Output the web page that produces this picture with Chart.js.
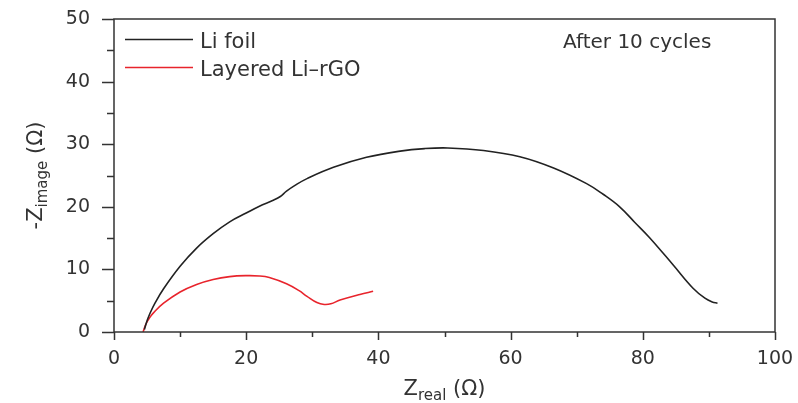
<!DOCTYPE html>
<html>
<head>
<meta charset="utf-8">
<script src="https://cdn.jsdelivr.net/npm/chart.js@4/dist/chart.umd.min.js"></script>
<style>
  html, body { margin: 0; padding: 0; background: #fff; }
  #wrap { width: 798px; height: 403px; }
</style>
</head>
<body>
<div id="wrap"><canvas id="nyquist"></canvas></div>
<script>
// DATA
const liFoilRe = [4.6, 5.0, 5.45, 6.2, 7.5, 10.0, 12.5, 15.0, 17.5, 20.0, 22.0, 24.0, 25.1, 26.1, 27.5, 29.2, 33.2, 38.2, 43.3, 47.0, 50.5, 55.9, 61.4, 66.5, 71.5, 74.0, 76.5, 78.8, 81.0, 84.6, 87.6, 89.4, 90.5, 91.3];
const liFoilIm = [0.4, 1.8, 3.0, 4.6, 6.9, 10.5, 13.4, 15.7, 17.6, 19.0, 20.1, 21.0, 21.6, 22.5, 23.5, 24.5, 26.3, 27.9, 28.9, 29.3, 29.4, 29.0, 28.0, 26.2, 23.7, 22.0, 20.0, 17.5, 15.1, 10.7, 7.0, 5.4, 4.8, 4.6];

const rgoRe = [4.4, 4.8, 5.4, 6.0, 7.5, 10.0, 12.5, 15.0, 17.5, 20.0, 22.0, 23.5, 26.1, 28.0, 29.2, 30.7, 31.8, 32.8, 34.2, 37.2, 39.2];
const rgoIm = [0.0, 1.2, 2.3, 3.1, 4.6, 6.4, 7.6, 8.4, 8.85, 9.0, 8.95, 8.7, 7.7, 6.6, 5.7, 4.7, 4.4, 4.5, 5.1, 6.0, 6.5];

const seriesNames = ['Li foil', 'Layered Li\u2013rGO'];
const seriesColors = ['#222222', '#e8242c'];
const note = 'After 10 cycles';

const xMajorLabels = [0, 20, 40, 60, 80, 100];
const yMajorLabels = [0, 10, 20, 30, 40, 50];

const toPoints = (xs, ys) => xs.map((x, i) => ({x: x, y: ys[i]}));

const FONT = '"DejaVu Sans", sans-serif';
const INK = '#333';

// keep tick labels from pushing the plot area around
const noPad = (s) => {
  s.paddingLeft = 0;
  s.paddingRight = 0;
  s.paddingTop = 0;
  s.paddingBottom = 0;
};

//FRAME, TICKS, LEGEND, TITLES
const decorPlugin = {
  id: 'decor',
  afterDraw(chart) {
    const ctx = chart.ctx;
    const a = chart.chartArea;
    const xs = chart.scales.x;
    const ys = chart.scales.y;
    ctx.save();

    // frame
    ctx.strokeStyle = '#333';
    ctx.lineWidth = 1.5;
    ctx.strokeRect(a.left, a.top, a.right - a.left, a.bottom - a.top);

    // y ticks (major 10, minor 5)
    ctx.beginPath();
    for (let v = 0; v <= 50; v += 5) {
      const p = Math.round(ys.getPixelForValue(v)) + 0.5;
      const len = v % 10 === 0 ? 12 : 7;
      ctx.moveTo(a.left - len, p);
      ctx.lineTo(a.left, p);
    }
    // x ticks (major 20, minor 10)
    for (let v = 0; v <= 100; v += 10) {
      const p = Math.round(xs.getPixelForValue(v)) + 0.5;
      const len = v % 20 === 0 ? 8 : 5;
      ctx.moveTo(p, a.bottom);
      ctx.lineTo(p, a.bottom + len);
    }
    ctx.stroke();

    // legend
    const legendY = [39.5, 67.5];
    seriesNames.forEach((name, i) => {
      ctx.strokeStyle = seriesColors[i];
      ctx.lineWidth = 1.5;
      ctx.beginPath();
      ctx.moveTo(125, legendY[i]);
      ctx.lineTo(193, legendY[i]);
      ctx.stroke();
      ctx.fillStyle = INK;
      ctx.font = '21px ' + FONT;
      ctx.textAlign = 'left';
      ctx.textBaseline = 'alphabetic';
      ctx.fillText(name, 200, legendY[i] + 8.5);
    });

    // note
    ctx.font = '20px ' + FONT;
    ctx.fillText(note, 563, 48);

    // axis titles with subscripts
    const drawSub = (main, sub, tail, cx, cy) => {
      ctx.textAlign = 'left';
      ctx.textBaseline = 'alphabetic';
      ctx.font = '21px ' + FONT;
      const w1 = ctx.measureText(main).width;
      const w3 = ctx.measureText(tail).width;
      ctx.font = '15px ' + FONT;
      const w2 = ctx.measureText(sub).width;
      let x = cx - (w1 + w2 + w3) / 2;
      ctx.font = '21px ' + FONT;
      ctx.fillText(main, x, cy);
      x += w1;
      ctx.font = '15px ' + FONT;
      ctx.fillText(sub, x, cy + 5);
      x += w2;
      ctx.font = '21px ' + FONT;
      ctx.fillText(tail, x, cy);
    };
    ctx.fillStyle = INK;
    drawSub('Z', 'real', ' (\u03a9)', (a.left + a.right) / 2, 395);

    ctx.translate(42, (a.top + a.bottom) / 2);
    ctx.rotate(-Math.PI / 2);
    drawSub('-Z', 'image', ' (\u03a9)', 0, 0);

    ctx.restore();
  }
};

const chart = new Chart(document.getElementById('nyquist'), {
  type: 'scatter',
  data: {
    datasets: [
      {
        label: seriesNames[0],
        data: toPoints(liFoilRe, liFoilIm),
        showLine: true,
        borderColor: seriesColors[0],
        borderWidth: 1.6,
        pointRadius: 0,
        tension: 0.4
      },
      {
        label: seriesNames[1],
        data: toPoints(rgoRe, rgoIm),
        showLine: true,
        borderColor: seriesColors[1],
        borderWidth: 1.6,
        pointRadius: 0,
        tension: 0.4
      }
    ]
  },
  options: {
    responsive: true,
    maintainAspectRatio: false,
    animation: false,
    layout: {
      padding: {left: 0, top: 19, right: 23, bottom: 0}
    },
    plugins: {
      legend: {display: false},
      tooltip: {enabled: false}
    },
    scales: {
      x: {
        type: 'linear',
        min: 0,
        max: 100,
        afterFit: (s) => { s.height = 71; noPad(s); },
        grid: {display: false, drawTicks: false},
        border: {display: false},
        ticks: {
          stepSize: 20,
          padding: 16,
          color: INK,
          font: {family: FONT, size: 19},
          callback: (v) => xMajorLabels.includes(v) ? v : ''
        }
      },
      y: {
        type: 'linear',
        min: 0,
        max: 50,
        afterFit: (s) => { s.width = 114; noPad(s); },
        grid: {display: false, drawTicks: false},
        border: {display: false},
        ticks: {
          stepSize: 10,
          padding: 24,
          color: INK,
          font: {family: FONT, size: 19},
          callback: (v) => yMajorLabels.includes(v) ? v : ''
        }
      }
    }
  },
  plugins: [decorPlugin]
});
</script>
</body>
</html>
